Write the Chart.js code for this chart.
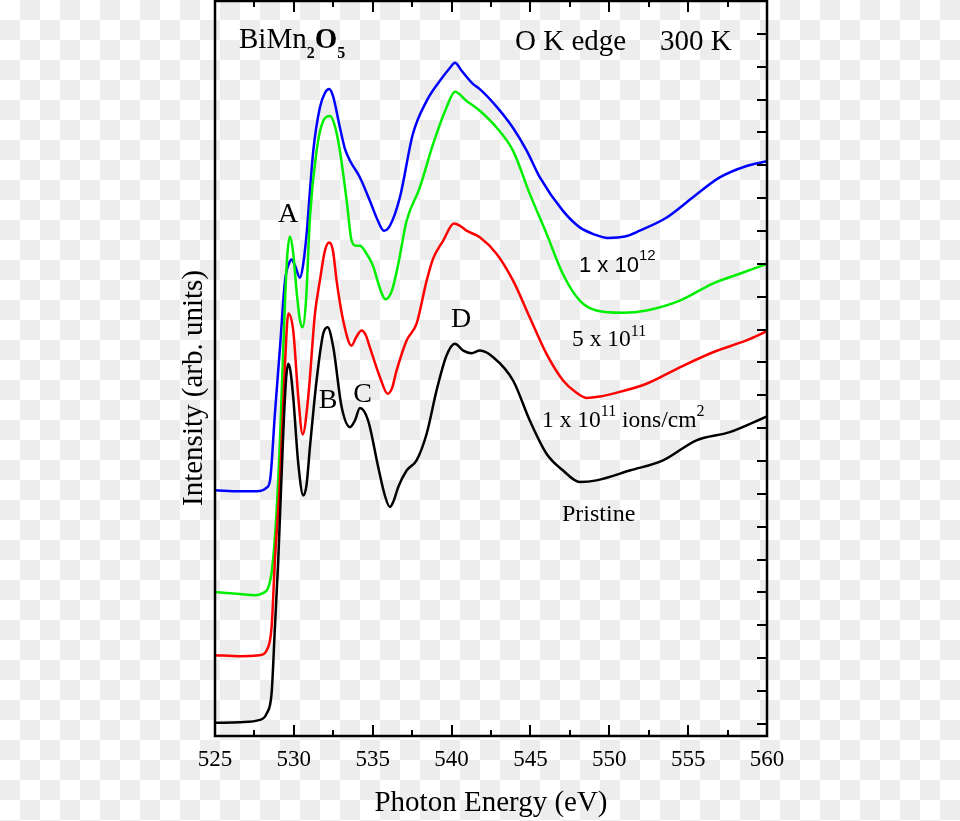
<!DOCTYPE html>
<html>
<head>
<meta charset="utf-8">
<script src="https://cdn.jsdelivr.net/npm/chart.js@4.4.1/dist/chart.umd.min.js"></script>
<style>
  html, body { margin: 0; padding: 0; }
  body {
    width: 960px; height: 821px; overflow: hidden;
    background: repeating-conic-gradient(#ededed 0% 25%, #ffffff 0% 50%) 0 0 / 40px 40px;
  }
  canvas { display: block; }
</style>
</head>
<body>
<canvas id="xas" width="960" height="821"></canvas>
<script>
/* DATA : O K edge XAS of BiMn2O5, curves offset vertically (arb. units) */
const E_PRISTINE = [525.00, 526.58, 527.85, 528.28, 528.59, 528.80, 529.01, 529.31, 529.50, 529.65, 529.78, 529.96, 530.28, 530.60, 530.80, 531.02, 531.44, 531.86, 532.14, 532.50, 533.03, 533.56, 533.87, 534.19, 534.71, 535.35, 535.77, 536.09, 536.34, 536.62, 537.15, 537.78, 538.42, 539.05, 539.68, 540.21, 540.74, 541.27, 541.79, 542.64, 543.90, 544.96, 546.02, 547.07, 548.13, 549.19, 551.30, 553.41, 555.53, 557.64, 560.00];
const I_PRISTINE = [0.03, 0.05, 0.12, 0.32, 0.94, 2.95, 4.98, 8.63, 10.45, 10.96, 10.75, 9.94, 7.92, 6.95, 7.26, 8.42, 10.45, 11.87, 12.07, 11.46, 9.64, 9.03, 9.23, 9.61, 9.23, 7.81, 6.95, 6.60, 6.80, 7.21, 7.71, 8.02, 8.83, 10.15, 11.21, 11.57, 11.36, 11.28, 11.36, 11.16, 10.45, 9.23, 8.22, 7.71, 7.36, 7.41, 7.71, 8.02, 8.63, 8.88, 9.36];

const E_1E11 = [525.00, 526.58, 527.85, 528.28, 528.59, 528.80, 529.12, 529.44, 529.65, 529.96, 530.28, 530.56, 530.91, 531.34, 531.65, 531.97, 532.24, 532.48, 532.71, 533.13, 533.66, 533.94, 534.30, 534.57, 534.82, 535.46, 535.94, 536.22, 536.51, 537.15, 537.78, 538.42, 538.83, 539.47, 540.15, 540.53, 540.95, 541.79, 542.85, 543.90, 544.96, 546.02, 547.07, 547.88, 548.55, 549.40, 550.24, 552.36, 554.47, 556.58, 558.69, 560.00];
const I_1E11 = [2.09, 2.06, 2.09, 2.24, 2.95, 4.98, 7.41, 10.97, 12.49, 11.97, 9.94, 8.81, 9.94, 12.49, 13.49, 14.40, 14.65, 14.40, 13.49, 12.27, 11.51, 11.76, 11.97, 11.82, 11.46, 10.55, 10.05, 10.21, 10.75, 11.67, 12.18, 13.49, 14.16, 14.71, 15.23, 15.16, 15.01, 14.81, 14.31, 13.49, 12.37, 11.26, 10.45, 10.09, 9.92, 9.96, 10.05, 10.35, 10.85, 11.31, 11.67, 11.95];

const E_5E11 = [525.00, 526.58, 527.53, 528.04, 528.36, 528.61, 528.87, 529.12, 529.37, 529.56, 529.75, 529.94, 530.20, 530.39, 530.56, 530.77, 531.02, 531.44, 531.86, 532.29, 532.60, 532.92, 533.35, 533.66, 533.94, 534.19, 534.57, 535.01, 535.46, 535.80, 536.22, 536.60, 537.15, 537.99, 538.83, 539.68, 540.21, 540.95, 541.79, 542.85, 543.90, 544.96, 546.02, 547.05, 548.13, 549.19, 550.87, 552.36, 554.47, 556.56, 558.27, 560.00];
const I_5E11 = [4.01, 3.95, 3.91, 3.98, 4.13, 4.67, 6.19, 8.63, 11.97, 14.10, 14.83, 14.40, 13.03, 12.27, 12.07, 12.88, 15.41, 17.44, 18.35, 18.50, 18.20, 17.44, 15.92, 14.71, 14.55, 14.55, 14.34, 13.95, 13.25, 12.92, 13.19, 13.95, 15.31, 16.33, 17.65, 18.76, 19.24, 18.96, 18.66, 18.15, 17.44, 16.13, 14.92, 13.70, 12.88, 12.58, 12.51, 12.58, 12.88, 13.40, 13.70, 14.00];

const E_1E12 = [525.00, 526.58, 527.85, 528.23, 528.49, 528.80, 529.12, 529.44, 529.69, 529.86, 530.07, 530.39, 530.58, 530.81, 531.02, 531.23, 531.65, 531.97, 532.24, 532.48, 532.92, 533.24, 533.56, 534.19, 534.82, 535.33, 535.71, 536.09, 536.72, 537.55, 538.42, 539.26, 539.89, 540.21, 540.65, 541.35, 541.79, 542.81, 543.88, 544.77, 545.60, 547.05, 548.13, 549.08, 549.90, 550.98, 551.93, 553.64, 555.29, 557.00, 558.71, 560.00];
const I_1E12 = [7.11, 7.08, 7.09, 7.17, 7.41, 9.45, 11.45, 13.49, 14.01, 14.13, 13.95, 13.58, 13.95, 14.92, 16.22, 17.44, 18.76, 19.20, 19.32, 19.11, 18.15, 17.50, 17.14, 16.63, 15.92, 15.31, 15.01, 15.16, 16.02, 17.96, 18.96, 19.57, 19.96, 20.12, 19.87, 19.48, 19.32, 18.81, 18.15, 17.44, 16.63, 15.62, 15.11, 14.89, 14.79, 14.83, 15.01, 15.41, 16.02, 16.63, 16.98, 17.12];

const X_TICKS = [525, 530, 535, 540, 545, 550, 555, 560];

const SERIF = 'Liberation Serif';
const SANS = 'Liberation Sans';

/* DATA STRUCTURE */
const toPoints = (xs, ys) => xs.map((x, i) => ({x: x, y: ys[i]}));

const GET_SERIES = (label, xs, ys, color) => {
    return {
        label: label,
        data: toPoints(xs, ys),
        borderColor: color,
        backgroundColor: color,
        borderWidth: 2.5,
        pointRadius: 0,
        cubicInterpolationMode: 'monotone',
        fill: false
    };
};

/* text with sub/superscripts, drawn left to right */
function drawRuns(ctx, x, y, parts) {
    parts.forEach(function(p) {
        ctx.font = p[1];
        ctx.fillText(p[0], x, y + (p[2] || 0));
        x += ctx.measureText(p[0]).width;
    });
}

/* frame, inward ticks and the annotations */
const decorations = {
    id: 'decorations',
    afterDatasetsDraw(chart) {
        const ctx = chart.ctx;
        const a = chart.chartArea;
        const xs = chart.scales.x;
        const ys = chart.scales.y;
        ctx.save();
        ctx.strokeStyle = '#000';
        ctx.fillStyle = '#000';

        ctx.lineWidth = 2;
        ctx.beginPath();
        for (let v = 525; v <= 560; v += 2.5) {
            const px = Math.round(xs.getPixelForValue(v));
            const len = (v % 5 === 0) ? 11 : 6;
            ctx.moveTo(px, a.bottom); ctx.lineTo(px, a.bottom - len);
            ctx.moveTo(px, a.top); ctx.lineTo(px, a.top + len);
        }
        for (let k = 0; k <= 21; k++) {
            const py = Math.round(ys.getPixelForValue(k));
            ctx.moveTo(a.right, py); ctx.lineTo(a.right - 10, py);
        }
        ctx.stroke();

        ctx.lineWidth = 2.5;
        ctx.strokeRect(a.left, a.top, a.right - a.left, a.bottom - a.top);

        ctx.textBaseline = 'alphabetic';
        ctx.textAlign = 'left';
        drawRuns(ctx, 239, 48, [
            ['BiMn', '29px ' + SERIF],
            ['2', 'bold 16px ' + SERIF, 10],
            ['O', 'bold 29px ' + SERIF],
            ['5', 'bold 16px ' + SERIF, 10]
        ]);
        drawRuns(ctx, 515, 50, [['O K edge', '29px ' + SERIF]]);
        drawRuns(ctx, 660, 50, [['300 K', '29px ' + SERIF]]);

        drawRuns(ctx, 579, 272, [['1 x 10', '22px ' + SANS], ['12', '15px ' + SANS, -12]]);
        drawRuns(ctx, 572, 346, [['5 x 10', '23.5px ' + SERIF], ['11', '16px ' + SERIF, -10]]);
        drawRuns(ctx, 542, 427, [
            ['1 x 10', '23.5px ' + SERIF],
            ['11', '16px ' + SERIF, -11],
            [' ions/cm', '23.5px ' + SERIF],
            ['2', '16px ' + SERIF, -11]
        ]);
        drawRuns(ctx, 562, 521, [['Pristine', '24px ' + SERIF]]);

        ctx.textAlign = 'center';
        ctx.font = '28px ' + SERIF;
        ctx.fillText('A', 288, 222);
        ctx.fillText('B', 328, 408);
        ctx.fillText('C', 362.5, 402);
        ctx.fillText('D', 461, 327);

        ctx.translate(202, 388);
        ctx.rotate(-Math.PI / 2);
        ctx.font = '29px ' + SERIF;
        ctx.fillText('Intensity (arb. units)', 0, 0);
        ctx.restore();
    }
};

/* Line Chart */
var chartXas = new Chart(document.getElementById('xas'), {
    type: 'line',
    data: {
        datasets: [
            GET_SERIES('Pristine', E_PRISTINE, I_PRISTINE, '#000000'),
            GET_SERIES('1 x 10^11 ions/cm^2', E_1E11, I_1E11, '#ff0000'),
            GET_SERIES('5 x 10^11', E_5E11, I_5E11, '#00ee00'),
            GET_SERIES('1 x 10^12', E_1E12, I_1E12, '#0000ff')
        ]
    },
    options: {
        responsive: false,
        animation: false,
        layout: { padding: { left: 0, top: 1, right: 193, bottom: 0 } },
        plugins: { legend: { display: false }, tooltip: { enabled: false } },
        scales: {
            x: {
                type: 'linear',
                min: 525,
                max: 560,
                afterBuildTicks: (scale) => { scale.ticks = X_TICKS.map(v => ({value: v})); },
                afterFit: (scale) => { scale.height = 85; },
                grid: { display: false, drawTicks: false },
                border: { display: false },
                ticks: {
                    color: '#000',
                    padding: 10,
                    font: { family: SERIF, size: 23 }
                },
                title: {
                    display: true,
                    text: 'Photon Energy (eV)',
                    color: '#000',
                    padding: { top: 0, bottom: 0 },
                    font: { family: SERIF, size: 29 }
                }
            },
            y: {
                type: 'linear',
                min: -0.37,
                max: 22,
                afterFit: (scale) => { scale.width = 215; },
                grid: { display: false, drawTicks: false },
                border: { display: false },
                ticks: { display: false, stepSize: 1 }
            }
        }
    },
    plugins: [decorations]
});
</script>
</body>
</html>
